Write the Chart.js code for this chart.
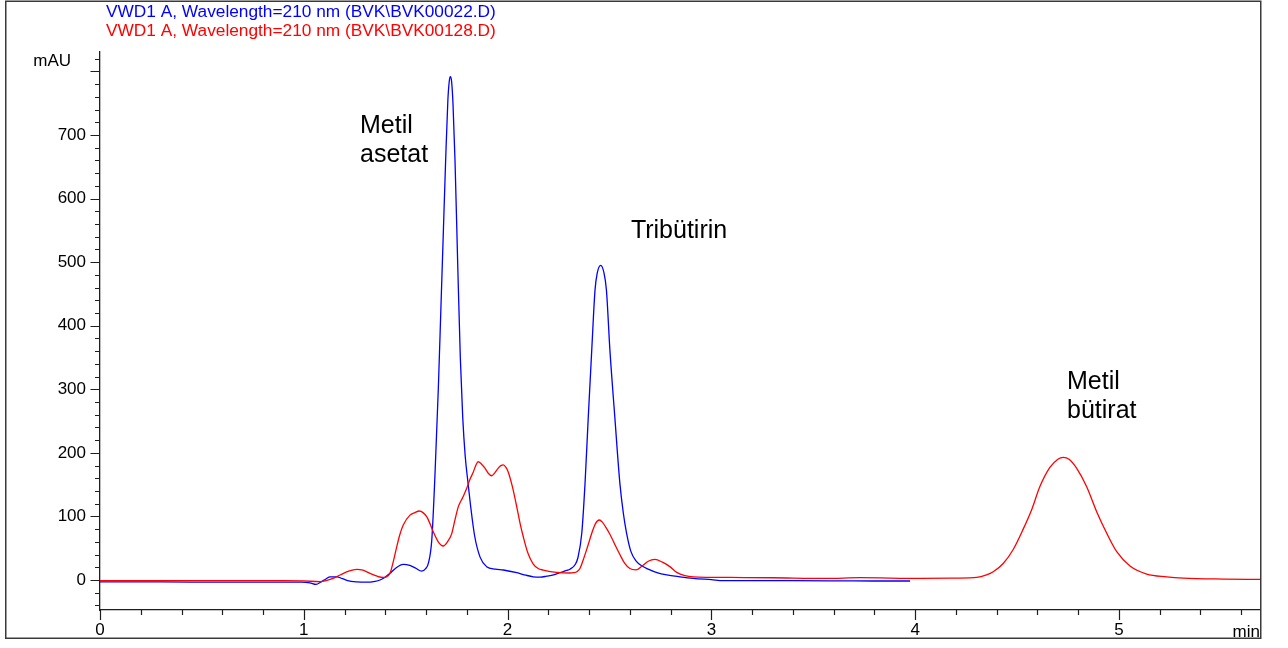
<!DOCTYPE html>
<html>
<head>
<meta charset="utf-8">
<script src="https://cdn.jsdelivr.net/npm/chart.js@4/dist/chart.umd.min.js"></script>
<style>
  html, body { margin: 0; padding: 0; background: #ffffff; }
  #wrap { width: 1288px; height: 648px; position: relative; }
</style>
</head>
<body>
<div id="wrap"><canvas id="chrom" width="1288" height="648"></canvas></div>
<script>
// Retention time (min) and detector response (mAU) for the two runs
const blueTime = [0.000, 0.300, 0.600, 0.900, 0.990, 1.030, 1.060, 1.085, 1.110, 1.129, 1.163, 1.190, 1.215, 1.260, 1.309, 1.350, 1.374, 1.395, 1.423, 1.452, 1.488, 1.520, 1.550, 1.578, 1.598, 1.611, 1.628, 1.644, 1.660, 1.673, 1.684, 1.696, 1.707, 1.714, 1.719, 1.725, 1.732, 1.742, 1.755, 1.768, 1.780, 1.792, 1.805, 1.818, 1.838, 1.865, 1.897, 1.940, 1.979, 2.045, 2.090, 2.126, 2.160, 2.192, 2.230, 2.257, 2.290, 2.306, 2.331, 2.345, 2.364, 2.380, 2.396, 2.413, 2.429, 2.440, 2.457, 2.473, 2.485, 2.502, 2.526, 2.551, 2.568, 2.584, 2.605, 2.630, 2.660, 2.690, 2.733, 2.781, 2.846, 2.911, 3.000, 3.058, 3.400, 3.700, 3.975];
const blueMAU = [-3, -3, -3.5, -3.5, -3.5, -4.5, -7, -3, 2, 5, 5, 2, -1, -3, -3.5, -2, 0, 3.5, 10.5, 19, 24.5, 23, 18.5, 14, 18, 26, 63, 168, 300, 430, 540, 660, 755, 785, 792, 785, 750, 660, 500, 350, 255, 195, 155, 118, 70, 36, 21, 17, 15.7, 11.5, 7.5, 5, 4.5, 6, 8.5, 11.5, 15, 17, 24, 35, 73.5, 152, 257, 362, 456, 483, 495, 483, 456, 362, 257, 152, 105, 73.5, 45, 30, 22, 17, 11.5, 7.9, 5, 2.6, 0.5, -1, -1, -1.5, -1.6];

const redTime = [0.000, 0.300, 0.600, 0.900, 1.000, 1.079, 1.110, 1.140, 1.178, 1.220, 1.260, 1.290, 1.325, 1.360, 1.390, 1.405, 1.423, 1.440, 1.456, 1.470, 1.488, 1.521, 1.545, 1.567, 1.585, 1.603, 1.620, 1.635, 1.660, 1.684, 1.705, 1.726, 1.742, 1.758, 1.780, 1.799, 1.815, 1.832, 1.845, 1.856, 1.870, 1.889, 1.905, 1.922, 1.938, 1.954, 1.967, 1.979, 1.992, 2.003, 2.025, 2.045, 2.062, 2.077, 2.100, 2.126, 2.150, 2.175, 2.241, 2.306, 2.325, 2.340, 2.355, 2.371, 2.392, 2.413, 2.432, 2.450, 2.465, 2.480, 2.502, 2.526, 2.551, 2.575, 2.600, 2.630, 2.660, 2.690, 2.723, 2.760, 2.796, 2.830, 2.870, 2.911, 3.091, 3.300, 3.566, 3.729, 4.024, 4.200, 4.302, 4.350, 4.383, 4.432, 4.481, 4.530, 4.572, 4.612, 4.661, 4.700, 4.727, 4.755, 4.792, 4.841, 4.891, 4.940, 4.989, 5.054, 5.136, 5.234, 5.315, 5.512, 5.692];
const redMAU = [-1, -1, -1, -1, -1.5, -2.5, -1, 2, 7.9, 14, 16.8, 15.5, 10.5, 6, 4, 5, 10.5, 30, 52, 70, 86.5, 102, 106, 108.5, 106, 99.6, 88, 76, 60, 53.5, 60, 73, 95, 115, 130, 144, 158, 170, 181, 186, 183, 176, 168, 164, 169, 176, 180, 181, 177, 170, 145, 115, 88, 68, 42, 25, 18, 15.7, 12, 11, 11.5, 13, 18, 31.5, 52, 73.5, 89, 94.4, 91, 84, 72, 56, 40, 26, 18, 16, 22, 29.5, 32.5, 28, 21, 12, 7, 5, 4, 3.5, 2.5, 3.7, 2.5, 3, 4, 8, 13, 26, 48, 80, 111, 147, 177, 190, 193, 190, 176, 147, 107, 73.5, 44.5, 22, 9.4, 5, 3, 1.5, 1];

// Axis labels and annotation text
const traceNames = ['VWD1 A, Wavelength=210 nm (BVK\\BVK00022.D)', 'VWD1 A, Wavelength=210 nm (BVK\\BVK00128.D)'];
const xTickLabels = [0, 1, 2, 3, 4, 5];
const yTickLabels = [0, 100, 200, 300, 400, 500, 600, 700];
const peakNames = [['Metil', 'asetat'], ['Tribütirin'], ['Metil', 'bütirat']];

const FONT = '"Liberation Sans", Arial, Helvetica, sans-serif';
const BLUE = '#0000ff';
const RED = '#ff0000';
const AXIS = '#1e1e1e';

const toPoints = (xs, ys) => xs.map((x, i) => ({ x: x, y: ys[i] }));

// Frame, minor/major tick marks and text annotations
const decorations = {
  id: 'decorations',
  afterDraw(chart) {
    const { ctx, scales: { x, y } } = chart;
    ctx.save();

    // outer frame
    ctx.strokeStyle = '#3a3a3a';
    ctx.lineWidth = 1.5;
    ctx.strokeRect(5.75, 1.25, 1255, 637);

    // y tick marks every 20 mAU
    ctx.strokeStyle = AXIS;
    ctx.lineWidth = 1.2;
    ctx.beginPath();
    for (let v = -40; v <= 820; v += 20) {
      const py = Math.round(y.getPixelForValue(v)) + 0.5;
      const len = (v % 100 === 0) ? 9.5 : 5;
      ctx.moveTo(x.left - len, py);
      ctx.lineTo(x.left, py);
    }
    // x tick marks every 0.2 min
    for (let k = 0; k <= 28; k++) {
      const t = k * 0.2;
      const px = Math.round(x.getPixelForValue(t)) + 0.5;
      const len = (k % 5 === 0) ? 10 : 5;
      ctx.moveTo(px, y.bottom);
      ctx.lineTo(px, y.bottom + len);
    }
    ctx.stroke();

    // run descriptions
    ctx.font = '17.3px ' + FONT;
    ctx.textBaseline = 'alphabetic';
    ctx.textAlign = 'left';
    ctx.fillStyle = BLUE;
    ctx.fillText(traceNames[0], 106, 17);
    ctx.fillStyle = RED;
    ctx.fillText(traceNames[1], 106, 35.5);

    // axis units
    ctx.font = '17px ' + FONT;
    ctx.fillStyle = '#000';
    ctx.textAlign = 'right';
    ctx.fillText('mAU', 71, 66);
    ctx.fillText('min', 1260, 637);

    // peak names
    ctx.font = '25px ' + FONT;
    ctx.textAlign = 'left';
    const anchors = [[1.276, 703], [2.605, 538], [4.745, 300]];
    peakNames.forEach((lines, i) => {
      const px = x.getPixelForValue(anchors[i][0]);
      const py = y.getPixelForValue(anchors[i][1]);
      lines.forEach((s, j) => ctx.fillText(s, px, py + j * 29));
    });

    ctx.restore();
  }
};

new Chart(document.getElementById('chrom'), {
  type: 'line',
  data: {
    datasets: [
      { data: toPoints(redTime, redMAU), borderColor: RED, borderWidth: 1.3 },
      { data: toPoints(blueTime, blueMAU), borderColor: BLUE, borderWidth: 1.3 }
    ]
  },
  options: {
    responsive: false,
    devicePixelRatio: 1,
    animation: false,
    parsing: false,
    normalized: true,
    layout: { padding: { left: 0, right: 28, top: 52, bottom: 0 } },
    elements: {
      point: { radius: 0, hoverRadius: 0 },
      line: { cubicInterpolationMode: 'monotone', fill: false }
    },
    plugins: {
      legend: { display: false },
      title: { display: false },
      tooltip: { enabled: false }
    },
    events: [],
    scales: {
      x: {
        type: 'linear',
        min: 0,
        max: 5.692,
        afterBuildTicks: s => { s.ticks = xTickLabels.map(v => ({ value: v })); },
        afterFit: s => { s.height = 38; },
        grid: { display: false, drawTicks: false },
        border: { display: true, color: AXIS, width: 1.3 },
        ticks: {
          autoSkip: false,
          maxRotation: 0,
          padding: 10,
          color: '#000',
          font: { family: FONT, size: 17 },
          callback: v => String(v)
        }
      },
      y: {
        type: 'linear',
        min: -47.2,
        max: 830.6,
        afterBuildTicks: s => { s.ticks = yTickLabels.map(v => ({ value: v })); },
        afterFit: s => { s.width = 100; },
        grid: { display: false, drawTicks: false },
        border: { display: true, color: AXIS, width: 1.3 },
        ticks: {
          autoSkip: false,
          padding: 14,
          color: '#000',
          font: { family: FONT, size: 17 },
          callback: v => String(v)
        }
      }
    }
  },
  plugins: [decorations]
});
</script>
</body>
</html>
